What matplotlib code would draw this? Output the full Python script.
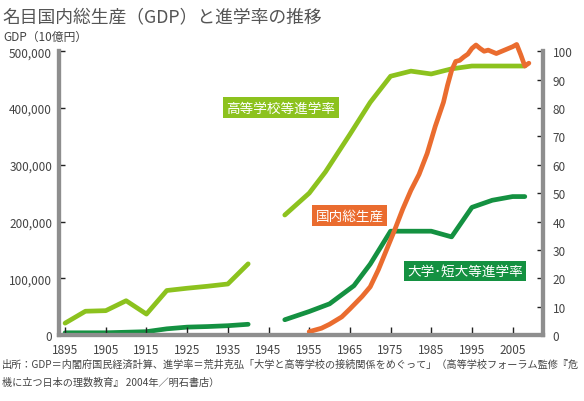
import numpy as np
import matplotlib
matplotlib.use('Agg')
import matplotlib.pyplot as plt

plt.rcParams['font.family'] = ['Noto Sans CJK JP', 'DejaVu Sans']

# 名目GDP (10億円)
gdp_years = [1955, 1958, 1960, 1963, 1965, 1968, 1970, 1972, 1974, 1976, 1978,
             1980, 1982, 1984, 1986, 1988, 1989, 1990, 1991, 1992, 1993, 1994,
             1995, 1996, 1997, 1998, 1999, 2000, 2001, 2002, 2003, 2004, 2005,
             2006, 2007, 2008, 2009]
gdp_vals = [6000, 12000, 19000, 32000, 46000, 68000, 85000, 115000, 150000,
            185000, 222000, 255000, 283000, 320000, 368000, 410000, 440000,
            466000, 482000, 484000, 490000, 495000, 505000, 511000, 505000,
            500000, 502000, 499000, 496000, 499000, 502000, 505000, 508000,
            512000, 494000, 474000, 479000]

# 高等学校等進学率 (%)
hs_years = [1895, 1900, 1905, 1910, 1915, 1920, 1925, 1930, 1935, 1940, 1945,
            1949, 1955, 1959, 1965, 1970, 1975, 1980, 1985, 1990, 1995, 2000,
            2005, 2008]
hs_vals = [4.2, 8.4, 8.6, 12.1, 7.4, 15.7, 16.5, 17.2, 18.0, 25.1, np.nan,
           42.3, 50.0, 57.5, 70.7, 82.0, 91.2, 93.0, 92.0, 93.8, 94.8, 94.8,
           94.8, 94.8]

# 大学・短大等進学率 (%)
univ_years = [1895, 1905, 1915, 1920, 1925, 1930, 1935, 1940, 1945, 1949,
              1955, 1960, 1966, 1970, 1975, 1985, 1990, 1995, 2000, 2005, 2008]
univ_vals = [0.8, 0.8, 1.2, 2.2, 2.8, 3.0, 3.3, 3.8, np.nan, 5.4, 8.3, 11.0,
             17.4, 25.0, 36.6, 36.6, 34.6, 45.0, 47.5, 48.8, 48.8]

x_ticks = list(range(1895, 2006, 10))
gdp_ticks = [0, 100000, 200000, 300000, 400000, 500000]
pct_ticks = list(range(0, 101, 10))

light_green = '#8cc21e'
dark_green = '#149141'
orange = '#ea6c2f'
spine_gray = '#8e8e8e'
text_gray = '#444444'

fig = plt.figure(figsize=(5.84, 4.02), dpi=100)
ax = fig.add_axes([0.101, 0.164, 0.829, 0.706])
ax2 = ax.twinx()

ax2.plot(hs_years, hs_vals, color=light_green, lw=3.4, solid_capstyle='round')
ax2.plot(univ_years, univ_vals, color=dark_green, lw=3.4, solid_capstyle='round')
ax.plot(gdp_years, gdp_vals, color=orange, lw=3.4, clip_on=False,
        solid_capstyle='round', solid_joinstyle='round')

# GDPの線を上に
ax.set_zorder(ax2.get_zorder() + 1)
ax.patch.set_visible(False)

ax.set_xlim(1893.5, 2012.5)
ax.set_ylim(0, 500000)
ax2.set_ylim(0, 100)

ax.set_xticks(x_ticks)
ax.set_yticks(gdp_ticks)
ax.set_yticklabels([f'{v:,}' for v in gdp_ticks])
ax2.set_yticks(pct_ticks)

for a in (ax, ax2):
    for s in a.spines.values():
        s.set_color(spine_gray)
        s.set_linewidth(3)
    a.spines['top'].set_visible(False)

ax.tick_params(axis='x', direction='in', length=6, width=1, color='#222222',
               labelsize=8.5, labelcolor=text_gray, pad=6)
ax.tick_params(axis='y', direction='in', length=4, width=1, color='#222222',
               labelsize=8.5, labelcolor=text_gray, pad=5)
ax2.tick_params(axis='y', direction='in', length=4, width=1, color='#222222',
                labelsize=8.5, labelcolor=text_gray, pad=7)

# 系列ラベル
ax2.text(1948.0, 80.2, '高等学校等進学率', color='white', fontsize=9.8,
         ha='center', va='center',
         bbox=dict(boxstyle='square,pad=0.25', fc=light_green, ec='none'))
ax2.text(1965.0, 42.0, '国内総生産', color='white', fontsize=9.8,
         ha='center', va='center',
         bbox=dict(boxstyle='square,pad=0.25', fc=orange, ec='none'))
ax2.text(1993.3, 22.6, '大学･短大等進学率', color='white', fontsize=9.8,
         ha='center', va='center',
         bbox=dict(boxstyle='square,pad=0.25', fc=dark_green, ec='none'))

fig.text(0.005, 0.978, '名目国内総生産（GDP）と進学率の推移', fontsize=12.8,
         color='#555555', ha='left', va='top')
fig.text(0.005, 0.907, 'GDP（10億円）', fontsize=8.5, color=text_gray,
         ha='left', va='center')
fig.text(0.003, 0.092,
         '出所：GDP＝内閣府国民経済計算、進学率＝荒井克弘「大学と高等学校の接続関係をめぐって」（高等学校フォーラム監修『危',
         fontsize=7.3, color=text_gray, ha='left', va='center')
fig.text(0.003, 0.047, '機に立つ日本の理数教育』 2004年／明石書店）',
         fontsize=7.3, color=text_gray, ha='left', va='center')

fig.savefig('out.png', dpi=100)
